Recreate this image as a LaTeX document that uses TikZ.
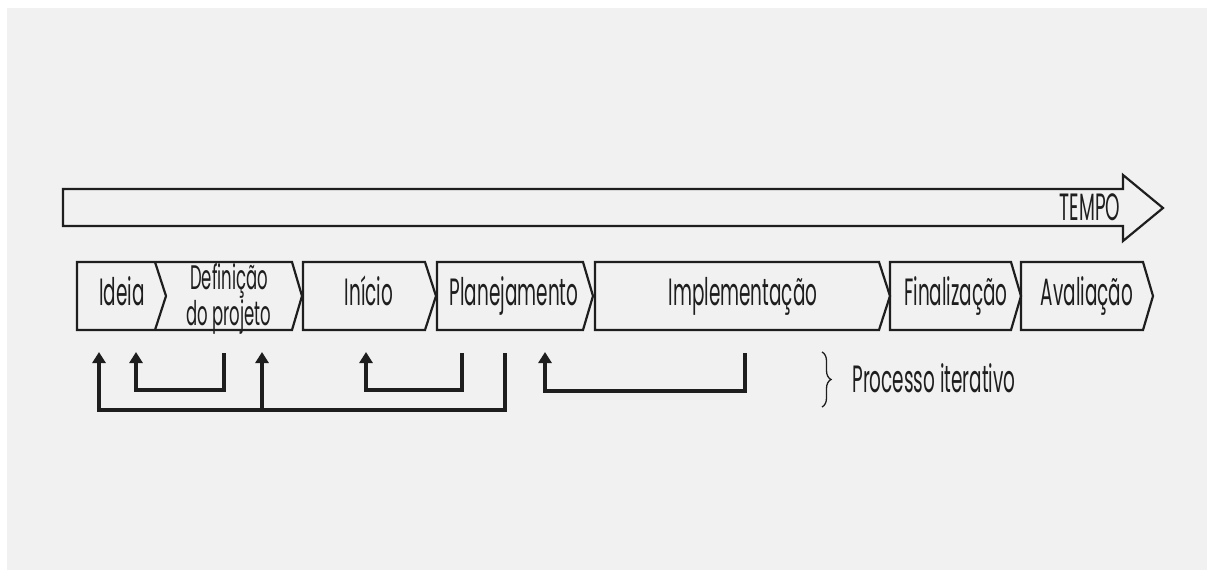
\documentclass[tikz,border=0pt]{standalone}
\usepackage{fontspec}
\setmainfont{Poppins}[FakeStretch=0.485]
\usetikzlibrary{arrows.meta,decorations.pathreplacing}
\definecolor{bg}{HTML}{F1F1F1}
\definecolor{ink}{HTML}{1E1E1E}
\begin{document}
\begin{tikzpicture}[x=1pt,y=-1pt,
  box/.style={draw=ink,line width=2.2pt,line join=miter},
  lbl/.style={font=\fontsize{38}{38}\selectfont,text=ink,inner sep=0pt,anchor=base},
  twolbl/.style={font=\fontsize{34}{25}\selectfont,text=ink,inner sep=0pt,align=center},
  loopline/.style={draw=ink,line width=4pt,line join=miter,-{Triangle[width=13pt,length=11pt]}},
  ]
\useasboundingbox (0,0) rectangle (1207,570);
\fill[white] (0,0) rectangle (1207,570);
\fill[bg] (7,8) rectangle (1207,570);
% time arrow
\draw[box] (63,189) -- (1123,189) -- (1123,175) -- (1163,208) -- (1123,241) -- (1123,226) -- (63,226) -- cycle;
\node[lbl] (tempo) at (1090,220) {TEMPO};
% phases
\draw[box] (77,262) -- (292,262) -- (302,296) -- (292,330) -- (77,330) -- cycle;
\draw[box] (155,262) -- (166,296) -- (155,330);
\draw[box] (303,262) -- (425,262) -- (436,296) -- (425,330) -- (303,330) -- cycle;
\draw[box] (437,262) -- (583,262) -- (593,296) -- (583,330) -- (437,330) -- cycle;
\draw[box] (595,262) -- (879,262) -- (890,296) -- (879,330) -- (595,330) -- cycle;
\draw[box] (890,262) -- (1011,262) -- (1021,296) -- (1011,330) -- (890,330) -- cycle;
\draw[box] (1021,262) -- (1143,262) -- (1153,296) -- (1143,330) -- (1021,330) -- cycle;
\node[lbl] (ideia) at (122,305) {Ideia};
\node[twolbl] (def) at (229,299) {Definição\\do projeto};
\node[lbl] (inicio) at (369,305) {Início};
\node[lbl] (plan) at (514,305) {Planejamento};
\node[lbl] (impl) at (743,305) {Implementação};
\node[lbl] (final) at (956,305) {Finalização};
\node[lbl] (aval) at (1087,305) {Avaliação};
% iteration loops
\coordinate (s1) at (505,353); \coordinate (t1) at (99,352); \coordinate (b1) at (262,410); \coordinate (t1b) at (262,352);
\coordinate (s2) at (224,353); \coordinate (t2) at (136,352);
\coordinate (s3) at (462,353); \coordinate (t3) at (366,352);
\coordinate (s4) at (745,353); \coordinate (t4) at (545,352);
\draw[loopline] (s1) |- (t1 |- b1) -- (t1);
\draw[loopline] (b1) -- (t1b);
\draw[loopline] (s2) |- ([yshift=-38pt]t2) -- (t2);
\draw[loopline] (s3) |- ([yshift=-38pt]t3) -- (t3);
\draw[loopline] (s4) |- ([yshift=-39pt]t4) -- (t4);
% legend
\draw[draw=ink,line width=1.3pt,decorate,decoration={brace,amplitude=9pt}] (822,352) -- (822,407);
\node[lbl] (legend) at (934,392) {Processo iterativo};
\end{tikzpicture}
\end{document}
